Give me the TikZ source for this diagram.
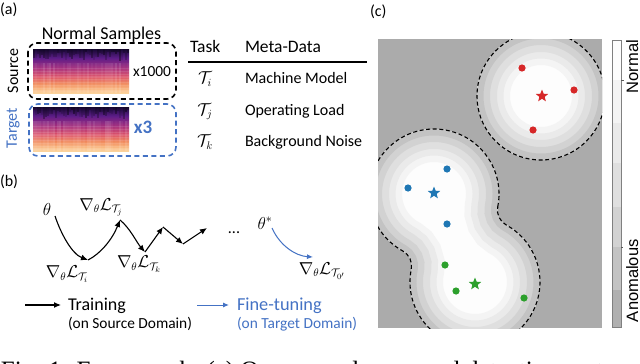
\documentclass[tikz,border=0pt]{standalone}
\usepackage{fontspec}
\setmainfont{Carlito}
\newfontfamily\arialf{Liberation Sans}
\newfontfamily\timesf{Liberation Serif}
\usetikzlibrary{shapes.geometric,arrows.meta}
\definecolor{oblue}{HTML}{4472C4}
\definecolor{cbg}{HTML}{ABABAB}
\definecolor{lvA}{HTML}{FDFDFD}
\definecolor{lvB}{HTML}{F4F4F4}
\definecolor{lvC}{HTML}{EAEAEA}
\definecolor{lvD}{HTML}{DFDFDF}
\definecolor{lvE}{HTML}{D2D2D2}
\definecolor{lvF}{HTML}{C3C3C3}
\definecolor{lvG}{HTML}{B0B0B0}
\definecolor{dred}{HTML}{D62728}
\definecolor{dblue}{HTML}{1F77B4}
\definecolor{dgreen}{HTML}{2CA02C}
\definecolor{mgA}{HTML}{FCD39B}
\definecolor{mgA2}{HTML}{F9B47C}
\definecolor{mgB}{HTML}{F18A5C}
\definecolor{mgC}{HTML}{DC5068}
\definecolor{mgD}{HTML}{A22D7E}
\definecolor{mgE}{HTML}{5C1D88}
\definecolor{mgF}{HTML}{1C0A3C}
\pgfdeclareverticalshading{magma}{100bp}{color(0bp)=(mgA); color(25bp)=(mgA); color(30bp)=(mgA2); color(36bp)=(mgB); color(44bp)=(mgC); color(54bp)=(mgD); color(65bp)=(mgE); color(75bp)=(mgF); color(100bp)=(mgF)}
\newcommand{\specdraw}[3]{%
  \pgfmathsetseed{#3}%
  \shade[shading=magma] (#1,#2) rectangle ++(96,44);
  \foreach \i in {0,...,47}{%
    \pgfmathsetmacro{\sdep}{3+9*rnd}%
    \pgfmathsetmacro{\sopa}{0.1+0.3*rnd}%
    \fill[black,opacity=\sopa] ({#1+2*\i},#2) rectangle ++(2,\sdep);
    \pgfmathsetmacro{\sopb}{0.16*rnd}%
    \fill[white,opacity=\sopb] ({#1+2*\i},{#2+14}) rectangle ++(2,30);
  }
  \foreach \j in {0,...,8}{%
    \fill[white,opacity=0.1] (#1,{#2+19+2.8*\j}) rectangle ++(96,1.1);
  }
}
\begin{document}
\begin{tikzpicture}[x=1pt,y=-1pt,
  every node/.style={inner sep=0pt,outer sep=0pt},
  fa/.style={font=\fontsize{16}{18}\selectfont},
  fh/.style={font=\fontsize{17.5}{20}\selectfont},
  fs/.style={font=\fontsize{15.4}{17}\selectfont},
  fm/.style={font=\fontsize{16}{18}\selectfont},
  dbox/.style={dashed,dash pattern=on 5pt off 3.5pt,line width=1.6pt,rounded corners=9pt},
  arr/.style={line width=1.1pt,-{Latex[length=7pt,width=6pt]}},
  barr/.style={line width=1pt,oblue,-{Latex[length=6pt,width=5pt]}},
  cdash/.style={dashed,dash pattern=on 4pt off 2.6pt,line width=1.1pt},
  cstar/.style={star,star points=5,star point ratio=2.3,minimum size=13pt},
  bgshape/.style={insert path={(497.74,206.75) arc[start angle=11.31,end angle=-241.27,radius=65] arc[start angle=-61.27,end angle=11.31,radius=17] arc[start angle=191.31,end angle=-61.27,radius=65] arc[start angle=118.73,end angle=191.31,radius=17] -- cycle}}
]
\useasboundingbox (0,0) rectangle (640,364);
\fill[white] (0,0) rectangle (640,364);

% ---------- (a)
\node[fa,anchor=west] (la) at (0,10) {(a)};
\node[font=\fontsize{18}{20}\selectfont,anchor=base] (ns) at (101.5,39.3) {Normal Samples};
\specdraw{33}{49}{11}
\specdraw{33}{107}{23}
\draw[dbox] (28,43) rectangle (176,99);
\draw[dbox,oblue] (29,104) rectangle (176,156);
\node[fs,anchor=base] (k1000) at (152,76) {x1000};
\node[font=\bfseries\fontsize{19}{21}\selectfont,text=oblue,anchor=base] (k3) at (143,133.5) {x3};
\node[fa,rotate=90] (src) at (13,71) {Source};
\node[fa,rotate=90,text=oblue] (tgt) at (13,128) {Target};
\node[fh,anchor=base west] (task) at (190,52.7) {Task};
\node[fh,anchor=base west] (meta) at (245,52.7) {Meta-Data};
\coordinate (rl) at (188,62);
\coordinate (rr) at (367,62);
\draw[line width=1.5pt] (rl) -- (rr);
\node[fm,anchor=base] (ti) at (205,83.5) {$\mathcal{T}_i$};
\node[fm,anchor=base] (tj) at (205,115) {$\mathcal{T}_j$};
\node[fm,anchor=base] (tk) at (205,146.5) {$\mathcal{T}_k$};
\node[fa,anchor=base west] (m1) at (245,83.5) {Machine Model};
\node[fa,anchor=base west] (m2) at (245,115) {Operating Load};
\node[fa,anchor=base west] (m3) at (245,146.5) {Background Noise};

% ---------- (b)
\node[fa,anchor=west] (lb) at (0,182) {(b)};
\node[font=\fontsize{17}{19}\selectfont] (th) at (47,209) {$\theta$};
\coordinate (p0) at (55,216);
\coordinate (p1) at (88,260);
\coordinate (p2) at (120,220);
\coordinate (p3) at (145,252);
\coordinate (p4) at (163,227);
\coordinate (p5) at (183,244);
\coordinate (p6) at (207,228);
\draw[arr] (p0) .. controls (61,234) and (72,254) .. (p1);
\draw[arr] (p1) .. controls (100,254) and (112,240) .. (p2);
\draw[arr] (p2) .. controls (130,228) and (137,243) .. (p3);
\draw[arr] (p3) -- (p4);
\draw[arr] (p4) -- (p5);
\draw[arr] (p5) -- (p6);
\node[fm] (gi) at (67,274) {$\nabla_\theta\mathcal{L}_{\mathcal{T}_i}$};
\node[fm] (gj) at (101,207) {$\nabla_\theta\mathcal{L}_{\mathcal{T}_j}$};
\node[fm] (gk) at (139,264) {$\nabla_\theta\mathcal{L}_{\mathcal{T}_k}$};
\node[fa,anchor=base] (dots) at (234,233) {...};
\node[font=\fontsize{17}{19}\selectfont] (ths) at (265,223) {$\theta^*$};
\coordinate (q0) at (272,228);
\coordinate (q1) at (313,257);
\draw[barr] (q0) .. controls (280,246) and (296,256) .. (q1);
\node[fm] (g0) at (322,271) {$\nabla_\theta\mathcal{L}_{\mathcal{T}_{0'}}$};
\coordinate (la0) at (25,305);
\coordinate (la1) at (61,305);
\draw[arr] (la0) -- (la1);
\node[font=\fontsize{18}{20}\selectfont,anchor=base west] (tr) at (68,310) {Training};
\node[fs,anchor=base west] (trs) at (68,328) {(on Source Domain)};
\coordinate (lb0) at (197,305);
\coordinate (lb1) at (229,305);
\draw[barr] (lb0) -- (lb1);
\node[font=\fontsize{18.3}{20}\selectfont,anchor=base west,text=oblue] (ft) at (237,310) {Fine-tuning};
\node[fs,anchor=base west,text=oblue] (fts) at (237,328) {(on Target Domain)};

% ---------- (c)
\node[fa,anchor=west] (lc) at (370,12) {(c)};
\begin{scope}
  \clip (378,39) rectangle (602,328);
  \fill[cbg] (378,39) rectangle (602,328);
  \begin{scope}
    \clip (541,96) circle[radius=64];
    \fill[lvA] (541,96) circle[radius=64];
    \foreach \w/\c in {66/lvB,53/lvC,40/lvD,26/lvE,13/lvF}
      \draw[line width=\w pt,draw=\c] (541,96) circle[radius=64];
  \end{scope}
  \begin{scope}
    \path[clip,bgshape];
    \path[fill=lvA,bgshape];
    \foreach \w/\c in {66/lvB,53/lvC,40/lvD,26/lvE,13/lvF}
      \path[line width=\w pt,draw=\c,bgshape];
  \end{scope}
  \draw[cdash] (541,96) circle[radius=64];
  \path[draw,cdash,bgshape];
  \fill[dred] (522,68) circle[radius=3.6];
  \fill[dred] (574,90) circle[radius=3.6];
  \fill[dred] (533,130) circle[radius=3.6];
  \fill[dblue] (447,169) circle[radius=3.6];
  \fill[dblue] (408,188) circle[radius=3.6];
  \fill[dblue] (447,224) circle[radius=3.6];
  \fill[dgreen] (445,265) circle[radius=3.6];
  \fill[dgreen] (456,291) circle[radius=3.6];
  \fill[dgreen] (524,298) circle[radius=3.6];
  \node[cstar,fill=dred] (sr) at (542,96) {};
  \node[cstar,fill=dblue] (sb) at (434,193) {};
  \node[cstar,fill=dgreen] (sg) at (475,284) {};
\end{scope}
% colorbar
\foreach \ya/\yb/\c in {40/80/lvA,80/123/lvB,123/163/lvC,163/207/lvD,207/247/lvE,247/290/lvF,290/327/lvG}
  \fill[fill=\c] (612,\ya) rectangle (621,\yb);
\draw[line width=0.7pt,draw=gray] (612,40) rectangle (621,327);
\draw[line width=0.6pt,draw=gray!70!black] (621,80) -- (624,80);
\draw[line width=0.6pt,draw=gray!70!black] (621,247) -- (623,247);
\node[font=\arialf\fontsize{16.5}{18}\selectfont,rotate=90,anchor=base east] (nor) at (638,40) {Normal};
\node[font=\arialf\fontsize{16.5}{18}\selectfont,rotate=90,anchor=base west] (ano) at (638,322) {Anomalous};

% caption (cut off at the bottom)
\node[font=\timesf\fontsize{25}{28}\selectfont,anchor=base west] (cap) at (1,378) {Fig. 1: Framework. (a) Our anomalous sound detection system};
\end{tikzpicture}
\end{document}
